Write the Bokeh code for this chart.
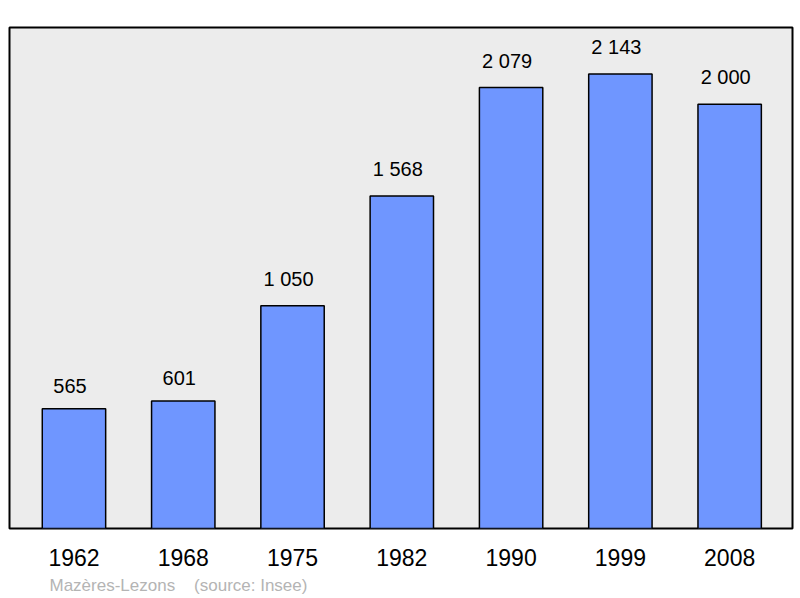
from bokeh.plotting import figure
from bokeh.models import ColumnDataSource, LinearAxis, FixedTicker, Range1d, Title
from bokeh.core.properties import value
from bokeh.embed import file_html
from bokeh.resources import INLINE

years = ["1962", "1968", "1975", "1982", "1990", "1999", "2008"]
population = [565, 601, 1050, 1568, 2079, 2143, 2000]
labels = ["565", "601", "1 050", "1 568", "2 079", "2 143", "2 000"]

xs = list(range(len(years)))
src = ColumnDataSource(dict(x=xs, top=population, lab=labels))

p = figure(frame_width=783, frame_height=501, output_backend="svg", toolbar_location=None,
           x_range=Range1d(-0.59, 6.575), y_range=Range1d(0, 2362),
           min_border_left=9, min_border_right=8, min_border_top=27, min_border_bottom=0)
p.background_fill_color = "#ececec"
p.border_fill_color = "white"
p.outline_line_color = "black"
p.outline_line_width = 2
p.xgrid.visible = False
p.ygrid.visible = False
p.xaxis.visible = False
p.yaxis.visible = False

p.vbar(x="x", top="top", width=0.58, bottom=0, source=src,
       fill_color="#6f96ff", line_color="black", line_width=1.5)
p.text(x="x", y="top", text="lab", source=src, text_align="center",
       text_baseline="bottom", y_offset=-16, x_offset=-4, text_font=value("Liberation Sans"),
       text_font_size="20px", text_color="black")

ax = LinearAxis(ticker=FixedTicker(ticks=xs),
                major_label_overrides={i: y for i, y in enumerate(years)})
ax.axis_line_color = None
ax.major_tick_line_color = None
ax.minor_tick_line_color = None
ax.major_label_standoff = 14
ax.major_label_text_font = "Liberation Sans"
ax.major_label_text_font_size = "23px"
ax.major_label_text_color = "black"
p.add_layout(ax, "below")

spacer = Title(text="\u00a0", text_font_size="3px", standoff=0)
p.add_layout(spacer, "below")

footer = Title(text="Mazères-Lezons\u00a0\u00a0\u00a0\u00a0(source: Insee)",
               align="left", offset=40, text_font="Liberation Sans",
               text_font_size="17px", text_font_style="normal", text_color="#b4b4b4",
               standoff=0)
p.add_layout(footer, "below")

open("out.html", "w").write(file_html(p, INLINE))
